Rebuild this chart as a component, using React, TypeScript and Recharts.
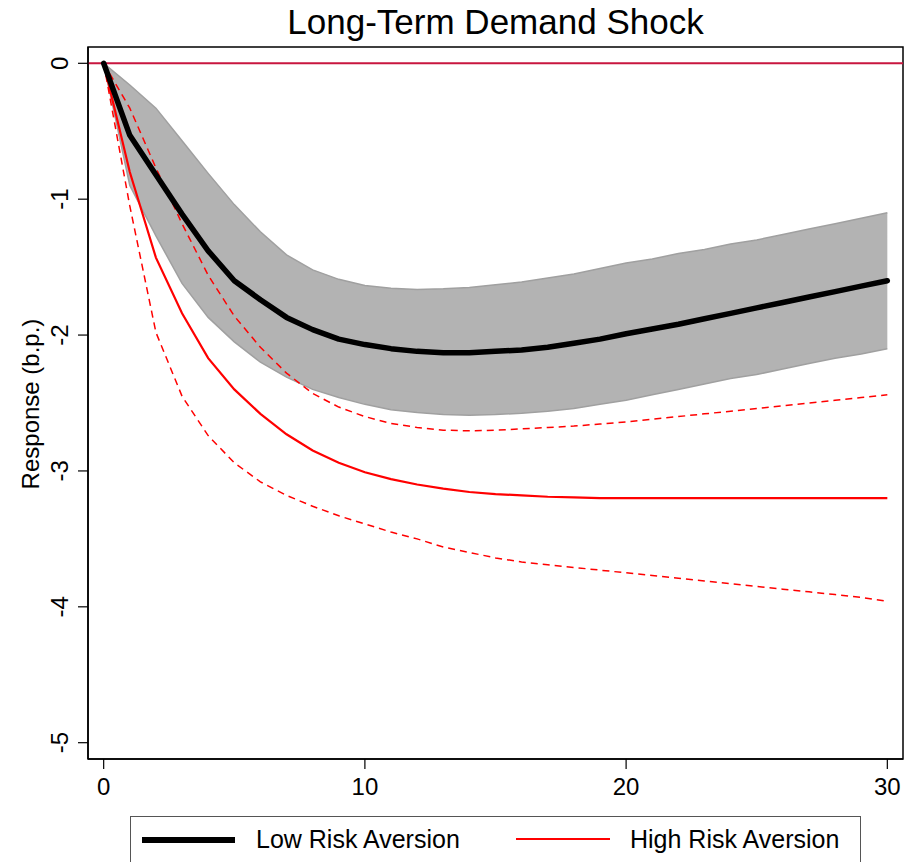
import React from 'react';
import { ComposedChart, Area, Line, XAxis, YAxis, ReferenceLine, ReferenceArea } from 'recharts';

// horizon (periods after the shock)
const horizons = [0, 1, 2, 3, 4, 5, 6, 7, 8, 9, 10, 11, 12, 13, 14, 15, 16, 17, 18, 19, 20, 21, 22, 23, 24, 25, 26, 27, 28, 29, 30];

// low risk aversion: point estimate and confidence band
const lowMean = [0, -0.53, -0.82, -1.11, -1.38, -1.6, -1.74, -1.87, -1.96, -2.03, -2.07, -2.1, -2.12, -2.13, -2.13, -2.12, -2.11, -2.09, -2.06, -2.03, -1.99, -1.955, -1.92, -1.88, -1.84, -1.8, -1.76, -1.72, -1.68, -1.64, -1.6];
const lowUpper = [0, -0.16, -0.33, -0.57, -0.81, -1.04, -1.24, -1.41, -1.52, -1.59, -1.635, -1.655, -1.665, -1.66, -1.65, -1.63, -1.61, -1.58, -1.55, -1.51, -1.47, -1.44, -1.4, -1.37, -1.33, -1.3, -1.26, -1.22, -1.18, -1.14, -1.1];
const lowLower = [0, -0.9, -1.27, -1.62, -1.87, -2.05, -2.2, -2.31, -2.4, -2.46, -2.51, -2.55, -2.57, -2.585, -2.59, -2.585, -2.575, -2.56, -2.54, -2.51, -2.48, -2.44, -2.4, -2.36, -2.32, -2.29, -2.25, -2.21, -2.17, -2.14, -2.1];

// high risk aversion: point estimate and dashed bounds
const highMean = [0, -0.8, -1.43, -1.84, -2.17, -2.4, -2.58, -2.73, -2.85, -2.94, -3.01, -3.06, -3.1, -3.13, -3.155, -3.17, -3.18, -3.19, -3.195, -3.2, -3.2, -3.2, -3.2, -3.2, -3.2, -3.2, -3.2, -3.2, -3.2, -3.2, -3.2];
const highUpper = [0, -0.33, -0.77, -1.18, -1.56, -1.86, -2.09, -2.28, -2.43, -2.53, -2.6, -2.65, -2.68, -2.7, -2.705, -2.7, -2.69, -2.68, -2.67, -2.655, -2.64, -2.62, -2.6, -2.58, -2.56, -2.54, -2.52, -2.5, -2.48, -2.46, -2.44];
const highLower = [0, -1.05, -1.98, -2.45, -2.74, -2.94, -3.08, -3.18, -3.26, -3.33, -3.39, -3.45, -3.5, -3.56, -3.6, -3.64, -3.67, -3.69, -3.71, -3.73, -3.75, -3.77, -3.79, -3.81, -3.83, -3.85, -3.87, -3.89, -3.91, -3.93, -3.96];

const xTicks = [0, 10, 20, 30];
const yTicks = [0, -1, -2, -3, -4, -5];

const data = horizons.map((h, i) => ({
  h,
  band: [lowLower[i], lowUpper[i]],
  lowMean: lowMean[i],
  highMean: highMean[i],
  highUpper: highUpper[i],
  highLower: highLower[i],
}));

const FONT = '"Liberation Sans", Arial, Helvetica, sans-serif';
const RED = '#ff0000';

const YTick = (props: any) => {
  const { x, y, payload } = props;
  const tx = x - 8;
  return (
    <text x={tx} y={y} transform={`rotate(-90 ${tx} ${y})`} textAnchor="middle" fontSize={24} fontFamily={FONT} fill="#000">
      {payload.value}
    </text>
  );
};

const XTick = (props: any) => {
  const { x, y, payload } = props;
  return (
    <text x={x} y={y + 24} textAnchor="middle" fontSize={24} fontFamily={FONT} fill="#000">
      {payload.value}
    </text>
  );
};

const App = () => {
  return (
    <div style={{ position: 'fixed', left: 0, top: 0, width: 920, height: 862, background: '#fff', overflow: 'hidden' }}>
      <div style={{ position: 'absolute', left: 0, top: 1, width: 991, textAlign: 'center', fontFamily: FONT, fontSize: 35, lineHeight: '42px', color: '#000' }}>
        Long-Term Demand Shock
      </div>
      <ComposedChart width={920} height={862} data={data} margin={{ top: 47, right: 17, left: 0, bottom: 0 }}>
        <XAxis
          dataKey="h"
          type="number"
          domain={[-0.6, 30.6]}
          allowDataOverflow
          ticks={xTicks}
          tickSize={10}
          height={103}
          tick={<XTick />}
          axisLine={{ stroke: '#000', strokeWidth: 1.5 }}
          tickLine={{ stroke: '#000', strokeWidth: 1.2 }}
        />
        <YAxis
          type="number"
          domain={[-5.12, 0.12]}
          allowDataOverflow
          ticks={yTicks}
          tickSize={10}
          width={88}
          tick={<YTick />}
          axisLine={{ stroke: '#000', strokeWidth: 1.5 }}
          tickLine={{ stroke: '#000', strokeWidth: 1.2 }}
        />
        <ReferenceArea x1={-0.6} x2={30.6} y1={-5.12} y2={0.12} fill="none" stroke="#000" strokeWidth={1.5} ifOverflow="visible" />
        <ReferenceLine y={0} stroke="#c8163f" strokeWidth={2} />
        <Area
          dataKey="band"
          type="linear"
          fill="#b3b3b3"
          fillOpacity={1}
          stroke="#a0a0a0"
          strokeWidth={1.5}
          isAnimationActive={false}
        />
        <Line dataKey="highUpper" type="linear" stroke={RED} strokeWidth={1.5} strokeDasharray="7 5" dot={false} isAnimationActive={false} />
        <Line dataKey="highLower" type="linear" stroke={RED} strokeWidth={1.5} strokeDasharray="7 5" dot={false} isAnimationActive={false} />
        <Line dataKey="highMean" type="linear" stroke={RED} strokeWidth={2.2} dot={false} isAnimationActive={false} />
        <Line dataKey="lowMean" type="linear" stroke="#000" strokeWidth={5.5} strokeLinecap="round" strokeLinejoin="round" dot={false} isAnimationActive={false} />
      </ComposedChart>
      {/* y-axis title */}
      <div
        style={{
          position: 'absolute',
          left: 31 - 100,
          top: 404 - 15,
          width: 200,
          height: 30,
          lineHeight: '30px',
          textAlign: 'center',
          transform: 'rotate(-90deg)',
          fontFamily: FONT,
          fontSize: '24px',
          color: '#000',
          whiteSpace: 'nowrap',
          pointerEvents: 'none',
        }}
      >
        Response (b.p.)
      </div>
      <div
        style={{
          position: 'absolute',
          left: 130,
          top: 816,
          width: 731,
          height: 60,
          boxSizing: 'border-box',
          border: '1.5px solid #555',
          fontFamily: FONT,
          fontSize: 25,
          color: '#000',
        }}
      >
        <svg width={731} height={60} style={{ position: 'absolute', left: 0, top: 0 }}>
          <line x1={11} x2={104} y1={23} y2={23} stroke="#000" strokeWidth={6} />
          <line x1={385} x2={479} y1={22} y2={22} stroke={RED} strokeWidth={2} />
        </svg>
        <span style={{ position: 'absolute', left: 125, top: 7, lineHeight: '30px' }}>Low Risk Aversion</span>
        <span style={{ position: 'absolute', left: 499, top: 7, lineHeight: '30px' }}>High Risk Aversion</span>
      </div>
    </div>
  );
};

export default App;
